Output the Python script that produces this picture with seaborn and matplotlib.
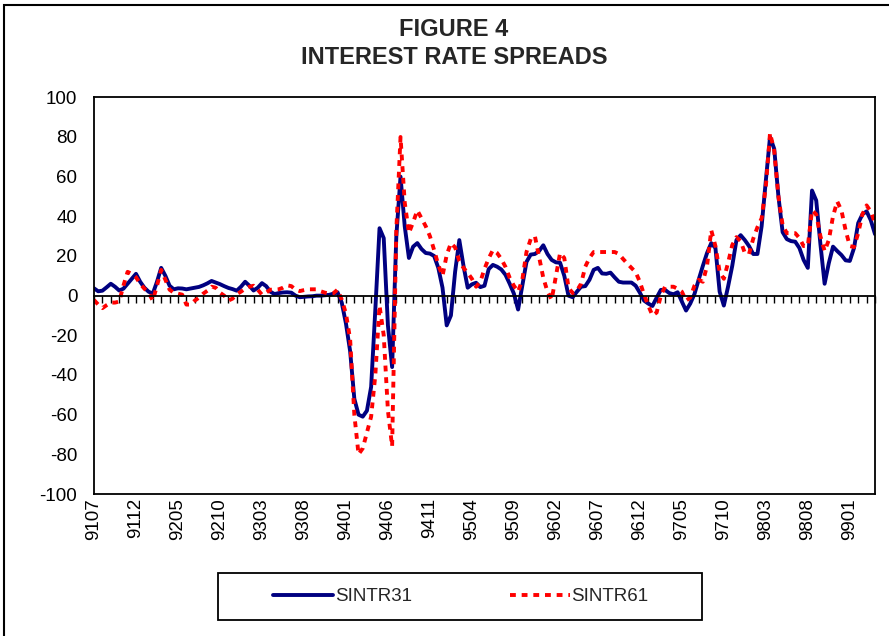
import numpy as np
import pandas as pd
import matplotlib
matplotlib.use("Agg")
import matplotlib.pyplot as plt
from matplotlib.patches import Rectangle
import seaborn as sns

sns.set_theme(style="white")
plt.rcParams['font.family'] = ['Liberation Sans', 'DejaVu Sans']
plt.rcParams['axes.unicode_minus'] = False

# x axis labels, every 5 months starting 9107
tick_labels = ["9107", "9112", "9205", "9210", "9303", "9308", "9401", "9406",
               "9411", "9504", "9509", "9602", "9607", "9612", "9705", "9710",
               "9803", "9808", "9901"]

# spreads, two readings per month from 9107 to 9904
sintr31 = [
    3.7, 2.2, 2.5, 4.2, 6, 4.5, 2.6, 3.5, 6, 8.5,
    11, 7, 4, 2, 1, 7, 14, 10, 5, 3.2,
    3.7, 3.6, 3.2, 3.6, 4, 4.4, 5.2, 6.2, 7.4, 6.6,
    5.8, 4.8, 3.9, 3.3, 2.5, 4.5, 7, 5, 2.6, 4,
    6.3, 4.8, 2, 0.8, 1.3, 1.6, 1.7, 1.5, 0, -0.8,
    -0.6, -0.4, -0.3, 0, 0, 0.2, 0.4, 1, 1.7, -3.5,
    -14, -28, -52, -60, -61, -58, -46, -7, 34, 29,
    -15, -36, 30, 60, 35, 19, 24.7, 26.5, 23.5, 21.5,
    21.2, 20, 14, 4, -15, -10, 12, 28, 15, 4,
    5.7, 6.5, 4.3, 5, 13.4, 15.5, 14.6, 13.2, 10.5, 6,
    1, -7, 5, 17, 20.7, 21, 22.5, 25.4, 21, 18,
    16.8, 16.6, 10, 0, -0.8, 2, 4.5, 4.8, 8, 13,
    14, 11.2, 11, 11.6, 9.2, 7, 6.6, 6.6, 6.6, 5,
    1.5, -2.5, -4, -5.2, -1, 2.9, 2.9, 1.3, 0.7, 1.7,
    -3, -7.5, -4, 0.8, 8, 15, 21.5, 26.5, 24, 2,
    -5, 4.5, 15, 28, 30.5, 28, 25, 21, 21, 35,
    58, 80, 74, 50, 32, 28.5, 27.5, 27.2, 24, 18,
    14, 53, 48, 26, 6, 16.4, 24.7, 22.5, 20.5, 17.8,
    17.5, 24, 36.6, 41, 42.5, 38, 31,
]
sintr61 = [
    -2.2, -4.5, -6.3, -4.8, -3.5, -3.5, -3, 5, 12, 11,
    9.3, 6, 3.5, 1.5, -2.5, 5, 13, 8, 3, 1.5,
    1, 0.5, -4.5, -4.5, -2.5, -1, 1, 2.5, 4.5, 4,
    1.5, 0, -2.5, -1.5, 0.8, 2, 3.5, 4.5, 5, 3,
    0.5, 1.5, 3, 3, 3.2, 4, 5.2, 4.8, 3, 2.3,
    2.8, 3.2, 3.2, 3.2, 2.2, 1.5, 1.1, 1.2, 3, -2,
    -9, -22, -60, -80, -77, -69, -61, -40, -5, -20,
    -58, -76, 33, 80, 47, 31.6, 37, 43, 39, 35,
    30, 23, 15.5, 10, 20.5, 26.5, 24.3, 17.5, 14, 11.5,
    8.5, 4.5, 7, 13.5, 18.8, 23, 21.5, 18.5, 14.5, 9,
    5, 2, 8, 22, 28.5, 30, 19.5, 9, 2, -2,
    9.6, 21.5, 19, 4, 1.3, 2.5, 6, 14.6, 19, 22,
    22, 22, 22, 22, 22, 21, 18.5, 16.2, 14, 11.8,
    7, 0.5, -5, -10, -8.5, 0, 4.5, 4.5, 4.5, 3.5,
    2, -2.5, -1, 5, 8, 7, 15, 33, 25, 12,
    8.5, 16.5, 25.5, 29.5, 27.5, 21.5, 21, 28.7, 34.5, 39,
    55, 82, 73, 50, 35.5, 31.5, 31.5, 31.5, 29, 25,
    25, 43, 41, 30, 22.5, 28, 40, 47.5, 43, 33,
    25, 24.5, 31.5, 41, 45.5, 42.4, 36.6,
]

months = np.arange(len(sintr31)) / 2
df = pd.DataFrame({'month': months, 'SINTR31': sintr31, 'SINTR61': sintr61})
df = df.melt(id_vars='month', var_name='series', value_name='spread')

fig = plt.figure(figsize=(8.89, 6.36), dpi=100)
ax = fig.add_axes([94 / 889, 1 - 494 / 636, 781 / 889, 396.7 / 636])

sns.lineplot(data=df, x='month', y='spread', hue='series', style='series',
             palette={'SINTR31': '#000080', 'SINTR61': '#FF0000'},
             dashes={'SINTR31': '', 'SINTR61': (1.5, 1.5)},
             linewidth=2.8, ax=ax)

ax.set_xlim(0, 93)
ax.set_ylim(-100, 100)
ax.set_xlabel('')
ax.set_ylabel('')
ax.set_yticks(range(-100, 101, 20))
ax.tick_params(axis='y', length=0, labelsize=13.5, pad=12, labelcolor='black')

# category axis crosses at zero, one tick per month
for s in ax.spines.values():
    s.set_color('black')
    s.set_linewidth(1.3)
ax.spines['bottom'].set_position(('data', 0))
ax.set_xticks(np.arange(0, 94, 1))
ax.set_xticklabels([])
ax.tick_params(axis='x', bottom=True, direction='out', length=5, width=1, color='black')

# labels sit at the bottom of the plot area
sec = ax.secondary_xaxis(0.0)
sec.set_xticks(np.arange(0, 91, 5), labels=tick_labels)
sec.tick_params(length=0, pad=3, labelsize=13.5, labelrotation=90, labelcolor='black')
sec.spines['bottom'].set_color('black')
sec.spines['bottom'].set_linewidth(1.3)

handles, labels = ax.get_legend_handles_labels()
ax.get_legend().remove()
fig.legend(handles, labels, loc='center', bbox_to_anchor=(461 / 889, 1 - 596.5 / 636),
           ncol=2, frameon=False, handlelength=3.2, handletextpad=0.1,
           columnspacing=5.2, fontsize=13.5)
fig.add_artist(Rectangle((218 / 889, 1 - 620 / 636), 484 / 889, 47 / 636,
                         transform=fig.transFigure, fill=False, edgecolor='black', lw=1.3))

# chart area border
fig.add_artist(Rectangle((4 / 889, -0.02), 1.0, 1 - 5 / 636 + 0.02,
                         transform=fig.transFigure, fill=False, edgecolor='black', lw=1.5))

fig.text(454 / 889, 1 - 30 / 636, "FIGURE 4", ha='center', va='center',
         fontsize=17, fontweight='bold')
fig.text(454 / 889, 1 - 57 / 636, "INTEREST RATE SPREADS", ha='center', va='center',
         fontsize=17, fontweight='bold')

fig.savefig('out.png', dpi=100)
